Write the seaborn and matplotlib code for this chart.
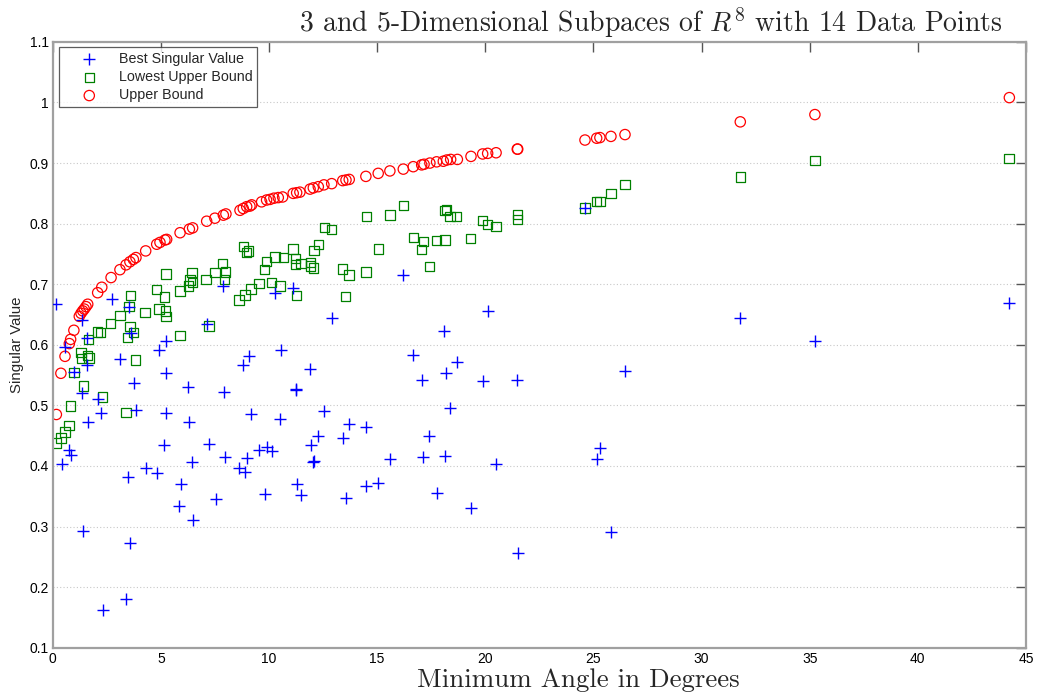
import matplotlib
matplotlib.use("Agg")
import matplotlib.pyplot as plt
import seaborn as sns
import pandas as pd

# Upper bound (red circles)
ub_angle = [0.17, 0.38, 0.57, 0.77, 0.83, 0.98, 1.23, 1.31, 1.39, 1.46, 1.54, 1.62,
            2.08, 2.27, 2.70, 3.11, 3.39, 3.57, 3.73, 3.85, 4.30, 4.81, 4.96, 5.19,
            5.27, 5.89, 6.32, 6.47, 7.12, 7.50, 7.89, 8.01, 8.66, 8.81, 8.97, 9.12,
            9.20, 9.66, 9.89, 10.05, 10.23, 10.43, 10.63, 11.12, 11.28, 11.43, 11.90,
            12.05, 12.28, 12.54, 12.90, 13.41, 13.56, 13.71, 14.48, 15.05, 15.59,
            16.21, 16.67, 17.06, 17.17, 17.44, 17.75, 18.06, 18.22, 18.40, 18.71,
            19.34, 19.88, 20.11, 20.50, 21.48, 21.50, 24.61, 25.15, 25.30, 25.81,
            26.46, 31.79, 35.24, 44.23]
ub_value = [0.485, 0.553, 0.581, 0.602, 0.609, 0.624, 0.647, 0.652, 0.656, 0.659, 0.663, 0.667,
            0.686, 0.695, 0.711, 0.724, 0.732, 0.737, 0.741, 0.744, 0.755, 0.766, 0.769, 0.773,
            0.774, 0.785, 0.791, 0.793, 0.804, 0.809, 0.814, 0.816, 0.822, 0.825, 0.828, 0.829,
            0.831, 0.836, 0.839, 0.840, 0.842, 0.843, 0.844, 0.850, 0.851, 0.852, 0.857,
            0.859, 0.861, 0.864, 0.866, 0.871, 0.872, 0.873, 0.878, 0.883, 0.887,
            0.890, 0.894, 0.897, 0.898, 0.900, 0.902, 0.903, 0.905, 0.906, 0.906,
            0.911, 0.915, 0.916, 0.917, 0.923, 0.923, 0.938, 0.941, 0.942, 0.944,
            0.947, 0.968, 0.980, 1.008]

# Lowest upper bound (green squares)
lub_angle = [0.15, 0.38, 0.57, 0.75, 0.83, 0.98, 1.31, 1.34, 1.41, 1.60, 1.68, 1.65,
             2.08, 2.22, 2.29, 2.68, 3.11, 3.39, 3.47, 3.53, 3.57, 3.61, 3.73, 3.84,
             4.27, 4.81, 4.91, 5.16, 5.22, 5.24, 5.24, 5.89, 5.89, 6.27, 6.35, 6.44,
             6.45, 7.09, 7.23, 7.50, 7.86, 7.93, 8.00, 8.61, 8.81, 8.89, 8.97, 9.04,
             9.17, 9.54, 9.80, 9.89, 10.12, 10.28, 10.51, 10.66, 11.11, 11.23, 11.23,
             11.28, 11.48, 11.93, 11.93, 12.05, 12.08, 12.30, 12.56, 12.90, 13.41,
             13.53, 13.70, 14.48, 14.52, 15.05, 15.59, 16.21, 16.67, 17.06, 17.13,
             17.41, 17.75, 18.14, 18.14, 18.22, 18.37, 18.68, 19.32, 19.88, 20.11,
             20.50, 21.48, 21.50, 24.61, 25.15, 25.30, 25.81, 26.46, 31.79, 35.24, 44.21]
lub_value = [0.438, 0.446, 0.456, 0.467, 0.499, 0.554, 0.587, 0.577, 0.532, 0.582, 0.578, 0.609,
             0.621, 0.620, 0.514, 0.635, 0.648, 0.488, 0.612, 0.663, 0.630, 0.681, 0.620, 0.575,
             0.653, 0.691, 0.659, 0.679, 0.656, 0.647, 0.717, 0.689, 0.615, 0.697, 0.707, 0.719,
             0.703, 0.708, 0.631, 0.719, 0.734, 0.708, 0.720, 0.674, 0.762, 0.682, 0.752, 0.755,
             0.692, 0.701, 0.724, 0.738, 0.703, 0.745, 0.697, 0.744, 0.758, 0.743, 0.733,
             0.681, 0.734, 0.736, 0.730, 0.727, 0.756, 0.766, 0.794, 0.790, 0.725,
             0.680, 0.715, 0.720, 0.812, 0.758, 0.814, 0.830, 0.777, 0.757, 0.770,
             0.729, 0.772, 0.773, 0.822, 0.823, 0.812, 0.812, 0.775, 0.805, 0.799,
             0.795, 0.815, 0.807, 0.826, 0.836, 0.836, 0.850, 0.865, 0.877, 0.904, 0.908]

# Best singular value (blue pluses)
best_angle = [0.15, 0.42, 0.57, 0.77, 0.83, 0.98, 1.34, 1.37, 1.39, 1.57, 1.60, 1.65,
              2.08, 2.23, 2.31, 2.73, 3.11, 3.39, 3.47, 3.53, 3.57, 3.62, 3.76, 3.84,
              4.30, 4.81, 4.93, 5.16, 5.22, 5.24, 5.24, 5.85, 5.92, 6.27, 6.32, 6.45,
              6.47, 7.12, 7.24, 7.54, 7.89, 7.93, 7.97, 8.63, 8.81, 8.89, 9.00, 9.09,
              9.17, 9.55, 9.80, 9.89, 10.12, 10.28, 10.51, 10.54, 11.10, 11.23, 11.25,
              11.28, 11.47, 11.90, 11.93, 12.05, 12.07, 12.28, 12.56, 12.90, 13.44,
              13.55, 13.71, 14.48, 14.48, 15.05, 15.59, 16.21, 16.67, 17.09, 17.13,
              17.41, 17.78, 18.10, 18.14, 18.18, 18.37, 18.68, 19.34, 19.91, 20.11,
              20.50, 21.45, 21.50, 24.61, 25.18, 25.30, 25.80, 26.46, 31.79, 35.24, 44.23]
best_value = [0.668, 0.404, 0.597, 0.427, 0.418, 0.555, 0.520, 0.641, 0.293, 0.566, 0.612, 0.473,
              0.510, 0.488, 0.162, 0.675, 0.576, 0.180, 0.382, 0.663, 0.273, 0.619, 0.537, 0.493,
              0.396, 0.389, 0.591, 0.435, 0.553, 0.607, 0.487, 0.334, 0.370, 0.531, 0.472, 0.407,
              0.311, 0.634, 0.436, 0.345, 0.697, 0.522, 0.415, 0.396, 0.566, 0.390, 0.414, 0.581,
              0.486, 0.427, 0.354, 0.432, 0.425, 0.686, 0.477, 0.591, 0.693, 0.525, 0.527,
              0.371, 0.352, 0.560, 0.434, 0.406, 0.408, 0.450, 0.491, 0.645, 0.447,
              0.347, 0.470, 0.464, 0.367, 0.372, 0.411, 0.716, 0.584, 0.542, 0.415,
              0.449, 0.355, 0.622, 0.417, 0.553, 0.495, 0.571, 0.330, 0.540, 0.656,
              0.404, 0.542, 0.257, 0.825, 0.411, 0.429, 0.291, 0.557, 0.645, 0.607, 0.669]

x_ticks = [0, 5, 10, 15, 20, 25, 30, 35, 40, 45]
y_ticks = [0.1, 0.2, 0.3, 0.4, 0.5, 0.6, 0.7, 0.8, 0.9, 1.0, 1.1]
y_tick_labels = ["0.1", "0.2", "0.3", "0.4", "0.5", "0.6", "0.7", "0.8", "0.9", "1", "1.1"]

sns.set_theme(style="white")
plt.rcParams["font.family"] = ["Liberation Sans Narrow", "Liberation Sans", "DejaVu Sans"]
plt.rcParams["mathtext.fontset"] = "cm"

best_df = pd.DataFrame({"angle": best_angle, "value": best_value})
lub_df = pd.DataFrame({"angle": lub_angle, "value": lub_value})
ub_df = pd.DataFrame({"angle": ub_angle, "value": ub_value})

fig = plt.figure(figsize=(10.39, 6.98), dpi=100)
ax = fig.add_axes([0.0507, 0.072, 0.9368, 0.868])

sns.scatterplot(data=best_df, x="angle", y="value", ax=ax, marker="+", s=70,
                color="#0000ff", linewidth=1.0, label="Best Singular Value", zorder=3)
sns.scatterplot(data=lub_df, x="angle", y="value", ax=ax, marker="s", s=45,
                color="#008000", facecolor="none", edgecolor="#008000",
                linewidth=0.9, label="Lowest Upper Bound", zorder=2)
sns.scatterplot(data=ub_df, x="angle", y="value", ax=ax, marker="o", s=55,
                color="#ff0000", facecolor="none", edgecolor="#ff0000",
                linewidth=0.9, label="Upper Bound", zorder=2)

ax.set_xlim(0, 45)
ax.set_ylim(0.1, 1.1)
ax.set_xticks(x_ticks)
ax.set_xticklabels([str(t) for t in x_ticks])
ax.set_yticks(y_ticks)
ax.set_yticklabels(y_tick_labels)
ax.tick_params(axis="both", which="both", direction="in", length=7, width=1.0,
               color="#555555", labelsize=10, top=True, right=True, pad=3,
               labelcolor="black")
ax.yaxis.grid(True, linestyle=(0, (1, 2)), color="#c8c8c8", linewidth=0.8)
ax.xaxis.grid(False)
for sp in ax.spines.values():
    sp.set_color("#a0a0a0")
    sp.set_linewidth(1.6)

ax.set_xlabel("")
ax.set_ylabel("Singular Value", fontsize=10.8, family=["Liberation Sans", "DejaVu Sans"],
              labelpad=4)

fig.text(0.626, 0.968, r"3 and 5-Dimensional Subpaces of $R^8$ with 14 Data Points",
         family="cmr10", fontsize=20, ha="center", va="center")
fig.text(0.557, 0.025, "Minimum Angle in Degrees", family="cmr10", fontsize=19.4,
         ha="center", va="center")

leg = ax.legend(loc="upper left", bbox_to_anchor=(0.006, 0.992), fontsize=10.3,
                frameon=True, fancybox=False, edgecolor="#333333",
                borderpad=0.35, labelspacing=0.3, handletextpad=0.25,
                handlelength=3.6, borderaxespad=0.0)
leg.get_frame().set_linewidth(0.9)
for t in leg.get_texts():
    t.set_family(["Liberation Sans", "DejaVu Sans"])

fig.savefig("out.png", dpi=100)
